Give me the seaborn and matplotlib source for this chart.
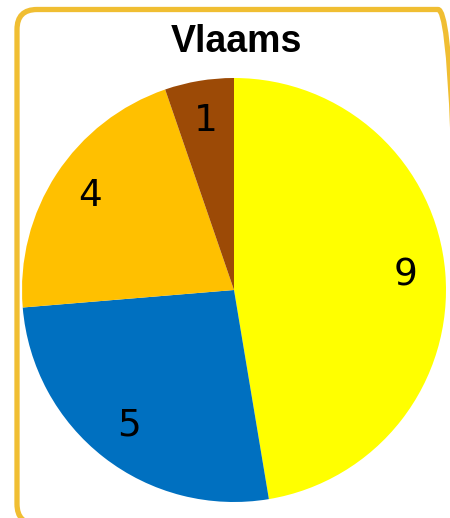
import matplotlib
matplotlib.use("Agg")
import matplotlib.pyplot as plt
from matplotlib.patches import FancyBboxPatch
import seaborn as sns

# data
categories = ["Geel", "Blauw", "Oranje", "Bruin"]
values = [9, 5, 4, 1]
colors = ["#FFFF00", "#0070C0", "#FFC000", "#9C4A06"]
title = "Vlaams"

sns.set_theme(style="white")
plt.rcParams['font.family'] = ['DejaVu Sans']

fig = plt.figure(figsize=(4.5, 5.18), dpi=100)
fig.patch.set_facecolor("white")

# rounded golden frame (in pixels so corners stay round); right and bottom run off the picture
frame = FancyBboxPatch((17, -6), 441, 514.5,
                       boxstyle="round,pad=0,rounding_size=20",
                       transform=None, facecolor="none",
                       edgecolor="#F0BE32", linewidth=3.8)
frame.set_clip_on(False)
fig.add_artist(frame)

ax = fig.add_axes([22 / 450, 16 / 518, 424 / 450, 424 / 518])
wedges, texts = ax.pie(values, colors=colors, startangle=90, counterclock=False,
                       labels=[str(v) for v in values], labeldistance=0.81,
                       wedgeprops=dict(linewidth=0),
                       textprops=dict(fontsize=27, color="black", ha="center", va="center"))
ax.set_xlim(-1, 1)
ax.set_ylim(-1, 1)
ax.set_aspect("equal")
ax.axis("off")

fig.text(236 / 450, 1 - 42 / 518, title, ha="center", va="center", color="black",
         fontsize=27, fontweight="bold", family=["Liberation Sans", "DejaVu Sans"])

fig.savefig("out.png", dpi=100)
print(fig.get_size_inches() * fig.dpi, frame.get_window_extent())
